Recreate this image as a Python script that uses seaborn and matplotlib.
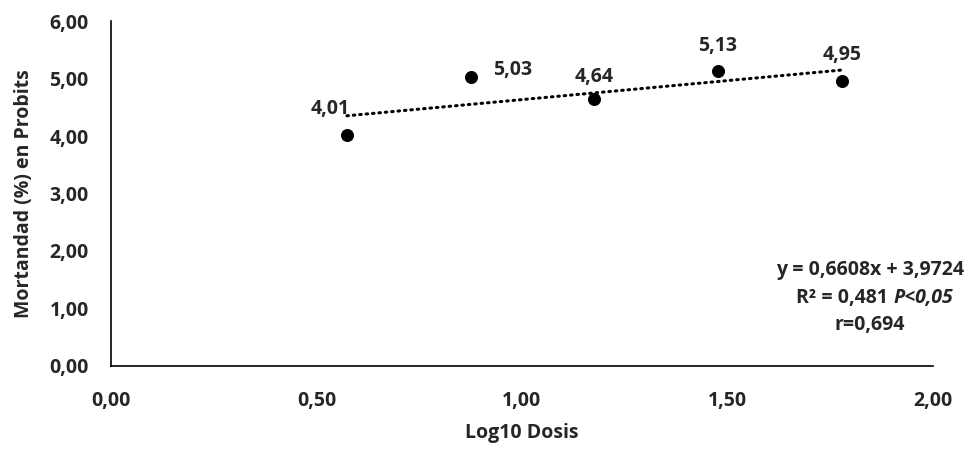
import numpy as np
import pandas as pd
import matplotlib
matplotlib.use("Agg")
import matplotlib.pyplot as plt
import seaborn as sns

# datos
log_dosis = [0.574, 0.875, 1.176, 1.477, 1.778]
probits = [4.01, 5.03, 4.64, 5.13, 4.95]
etiquetas = ["4,01", "5,03", "4,64", "5,13", "4,95"]
pendiente = 0.6608
intercepto = 3.9724
x_ticks = [0, 0.5, 1.0, 1.5, 2.0]
y_ticks = [0, 1, 2, 3, 4, 5, 6]

df = pd.DataFrame({"Log10 Dosis": log_dosis, "Probits": probits})

sns.set_style("white")
plt.rcParams['font.family'] = ['Open Sans', 'DejaVu Sans']
plt.rcParams['font.weight'] = 'bold'
FS = 14

fig = plt.figure(figsize=(9.8, 4.51), dpi=100)
ax = fig.add_axes([0.1133, 0.1885, 0.8387, 0.7649])

sns.scatterplot(data=df, x="Log10 Dosis", y="Probits", color="black", s=75,
                edgecolor="black", ax=ax, zorder=3)

# linea de tendencia
xt = np.array([log_dosis[0], log_dosis[-1]])
ax.plot(xt, pendiente * xt + intercepto, color="black", lw=2.2,
        linestyle=(0, (0.5, 1.6)), dash_capstyle="round", zorder=2)

# etiquetas de datos
offs = [(-12, 19), (30, 5), (0, 16), (0, 18), (0, 19)]
for x, y, t, o in zip(log_dosis, probits, etiquetas, offs):
    ax.annotate(t, (x, y), xytext=o, textcoords="offset points",
                ha="center", va="center", fontsize=FS, fontweight="bold")

ax.set_xlim(0, 2)
ax.set_ylim(0, 6)
ax.set_xticks(x_ticks)
ax.set_yticks(y_ticks)
ax.set_xticklabels([f"{v:.2f}".replace(".", ",") for v in x_ticks], fontsize=FS, fontweight="bold")
ax.set_yticklabels([f"{v:.2f}".replace(".", ",") for v in y_ticks], fontsize=FS, fontweight="bold")
ax.tick_params(axis="x", length=0, pad=18)
ax.tick_params(axis="y", length=0, pad=16)
ax.set_xlabel("Log10 Dosis", fontsize=FS, fontweight="bold", labelpad=9)
ax.set_ylabel("Mortandad (%) en Probits", fontsize=FS, fontweight="bold", labelpad=11)

sns.despine(ax=ax)
for s in ["left", "bottom"]:
    ax.spines[s].set_color("black")
    ax.spines[s].set_linewidth(1.2)

# ecuacion
fig.text(870 / 980, 1 - 270 / 451, "y = 0,6608x + 3,9724", ha="center", va="center",
         fontsize=FS, fontweight="bold")
fig.text(893 / 980, 1 - 298 / 451, "R² = 0,481 ", ha="right", va="center",
         fontsize=FS, fontweight="bold")
fig.text(893 / 980, 1 - 298 / 451, "P<0,05", ha="left", va="center",
         fontsize=FS, fontweight="bold", style="italic")
fig.text(870 / 980, 1 - 325 / 451, "r=0,694", ha="center", va="center",
         fontsize=FS, fontweight="bold")

fig.savefig("out.png", dpi=100)
